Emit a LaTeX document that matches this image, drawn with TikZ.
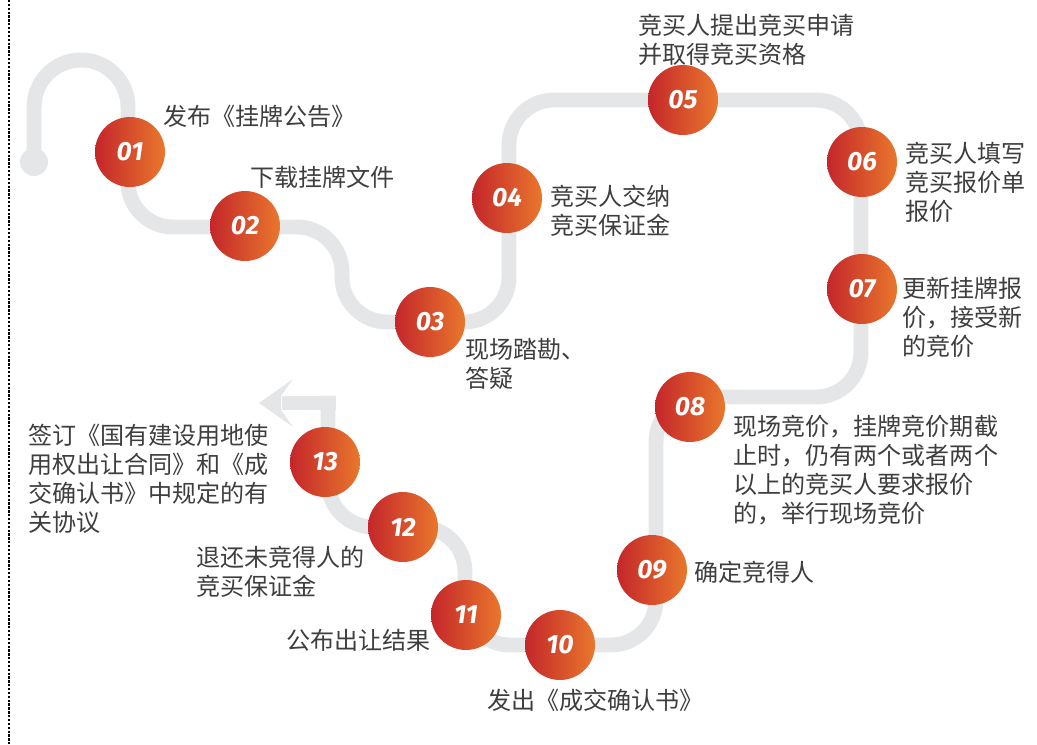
\documentclass[tikz,border=0pt]{standalone}
\usepackage{fontspec}
\usepackage{xcolor}
\newfontfamily\cjk{Noto Sans CJK SC}
\newfontfamily\numfont{Fira Sans}
\definecolor{trackgray}{RGB}{229,230,232}
\definecolor{txtgray}{RGB}{62,62,62}
\definecolor{dotred}{RGB}{196,38,43}
\definecolor{dotorange}{RGB}{233,119,44}

\begin{document}
\begin{tikzpicture}[x=0.02cm, y=-0.02cm,
  track/.style={draw=trackgray, line width=8.5pt},
  stepdot/.style={circle, minimum size=1.4cm, inner sep=0pt, left color=dotred, right color=dotorange,
    text=white, font=\numfont\bfseries\itshape\fontsize{15}{15}\selectfont},
  steplabel/.style={anchor=west, inner sep=0pt, align=left, text=txtgray,
    font=\cjk\fontsize{13.7}{16.5}\selectfont}]
  \useasboundingbox (0,0) rectangle (1037,744);
  \draw[densely dashed, line width=0.6pt, dash pattern=on 1.3pt off 0.9pt] (9,0) -- (9,744);

  % winding track
  \fill[trackgray] (34,162) circle (14);
  \draw[track] (34,162) -- (34,107) arc[start angle=180, end angle=360, radius=47]
    [rounded corners=0.9cm] -- (128,227) -- (342,227) -- (342,322) -- (509,322) -- (509,100)
    -- (861,100) -- (861,397) -- (656,397) -- (656,645) -- (465,645) -- (465,527)
    -- (328,527) -- (328,395.5);
  \draw[track] (335.5,403) -- (282,403);
  \fill[trackgray] (259,403) -- (293,379) -- (281,396) -- (281,410) -- (293,427) -- cycle;

  % steps
  \node[stepdot] (s01) at (130,152) {01};
  \node[stepdot] (s02) at (245,226) {02};
  \node[stepdot] (s03) at (430,322) {03};
  \node[stepdot] (s04) at (507,198) {04};
  \node[stepdot] (s05) at (683,100) {05};
  \node[stepdot] (s06) at (862,162) {06};
  \node[stepdot] (s07) at (862,289) {07};
  \node[stepdot] (s08) at (690,407) {08};
  \node[stepdot] (s09) at (652,570) {09};
  \node[stepdot] (s10) at (560,645) {10};
  \node[stepdot] (s11) at (466,615) {11};
  \node[stepdot] (s12) at (403,527) {12};
  \node[stepdot] (s13) at (325,462) {13};

  \node[steplabel] (t01) at (163,116) {发布《挂牌公告》};
  \node[steplabel] (t02) at (250,177) {下载挂牌文件};
  \node[steplabel] (t03) at (465,363.5) {现场踏勘、\\答疑};
  \node[steplabel] (t04) at (550,211) {竞买人交纳\\竞买保证金};
  \node[steplabel] (t05) at (638,39.5) {竞买人提出竞买申请\\并取得竞买资格};
  \node[steplabel] (t06) at (905,182.5) {竞买人填写\\竞买报价单\\报价};
  \node[steplabel] (t07) at (902,317.5) {更新挂牌报\\价，接受新\\的竞价};
  \node[steplabel] (t08) at (733,470.5) {现场竞价，挂牌竞价期截\\止时，仍有两个或者两个\\以上的竞买人要求报价\\的，举行现场竞价};
  \node[steplabel] (t09) at (694,572) {确定竞得人};
  \node[steplabel] (t10) at (487,700) {发出《成交确认书》};
  \node[steplabel, anchor=east] (t11) at (431,640) {公布出让结果};
  \node[steplabel] (t12) at (196,571.5) {退还未竞得人的\\竞买保证金};
  \node[steplabel] (t13) at (28,479) {签订《国有建设用地使\\用权出让合同》和《成\\交确认书》中规定的有\\关协议};
\end{tikzpicture}
\end{document}
